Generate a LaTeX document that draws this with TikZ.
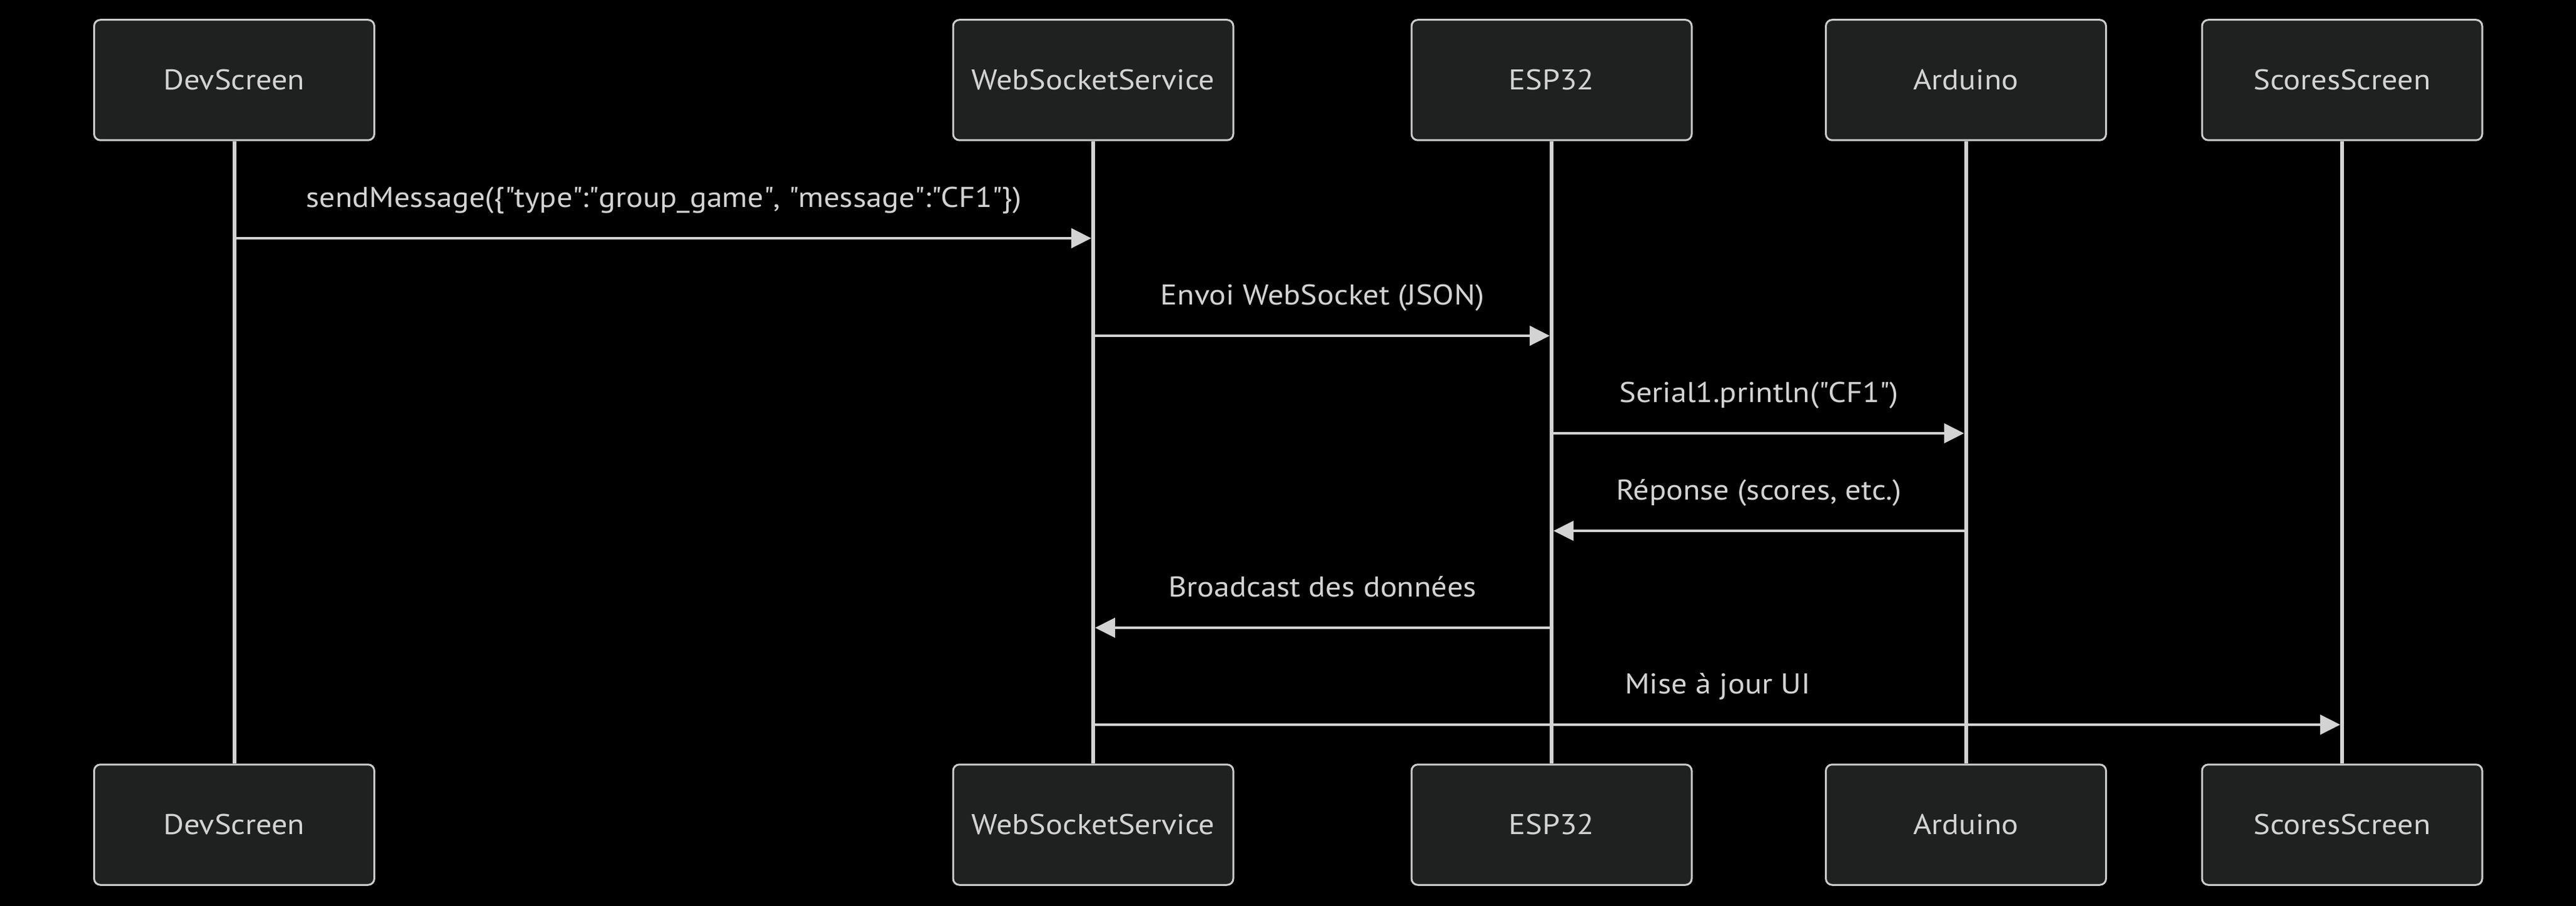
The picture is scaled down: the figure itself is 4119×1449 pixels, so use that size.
\documentclass[tikz,border=0pt]{standalone}
\usepackage{fontspec}
\setmainfont{PT Sans}[FakeStretch=1.1]
\usetikzlibrary{arrows.meta}
\definecolor{boxfill}{HTML}{1F2020}
\definecolor{boxline}{HTML}{CCCCCC}
\definecolor{wire}{HTML}{D3D3D3}
\newcommand{\dq}{\textquotedbl}
\begin{document}
\begin{tikzpicture}[x=0.1mm, y=-0.1mm,
  actor/.style={draw=boxline, fill=boxfill, line width=0.3mm, rounded corners=1mm, minimum width=44.8mm, minimum height=19.25mm, inner sep=0pt, text=wire, font=\fontsize{13pt}{15pt}\selectfont},
  lifeline/.style={draw=wire, line width=0.6mm},
  msg/.style={draw=wire, line width=0.47mm, -{Triangle[length=3.2mm, width=3.1mm]}, shorten >=0.3mm},
  lbl/.style={midway, anchor=base, yshift=4.9mm, inner sep=0pt, text=wire, font=\fontsize{13pt}{15pt}\selectfont}]
\fill[black] (0,0) rectangle (4119,1449);
\useasboundingbox (0,0) rectangle (4119,1449);
\node[actor] (devT) at (374.5,128) {DevScreen};
\node[actor] (wsT) at (1748,128) {WebSocketService};
\node[actor] (espT) at (2481,128) {ESP32};
\node[actor] (ardT) at (3143.5,128) {Arduino};
\node[actor] (scoT) at (3745,128) {ScoresScreen};
\node[actor] (devB) at (374.5,1319) {DevScreen};
\node[actor] (wsB) at (1748,1319) {WebSocketService};
\node[actor] (espB) at (2481,1319) {ESP32};
\node[actor] (ardB) at (3143.5,1319) {Arduino};
\node[actor] (scoB) at (3745,1319) {ScoresScreen};
\draw[lifeline] (devT.south) -- (devB.north);
\draw[lifeline] (wsT.south) -- (wsB.north);
\draw[lifeline] (espT.south) -- (espB.north);
\draw[lifeline] (ardT.south) -- (ardB.north);
\draw[lifeline] (scoT.south) -- (scoB.north);
\draw[msg] (devT |- 0,381) -- node[lbl] (m1) {sendMessage(\{\dq type\dq:\dq group\_game\dq, \dq message\dq:\dq CF1\dq\})} (wsT |- 0,381);
\draw[msg] (wsT |- 0,537) -- node[lbl] (m2) {Envoi WebSocket (JSON)} (espT |- 0,537);
\draw[msg] (espT |- 0,693) -- node[lbl] (m3) {Serial1.println(\dq CF1\dq)} (ardT |- 0,693);
\draw[msg] (ardT |- 0,849) -- node[lbl] (m4) {Réponse (scores, etc.)} (espT |- 0,849);
\draw[msg] (espT |- 0,1004) -- node[lbl] (m5) {Broadcast des données} (wsT |- 0,1004);
\draw[msg] (wsT |- 0,1159) -- node[lbl] (m6) {Mise à jour UI} (scoT |- 0,1159);
\end{tikzpicture}
\end{document}
